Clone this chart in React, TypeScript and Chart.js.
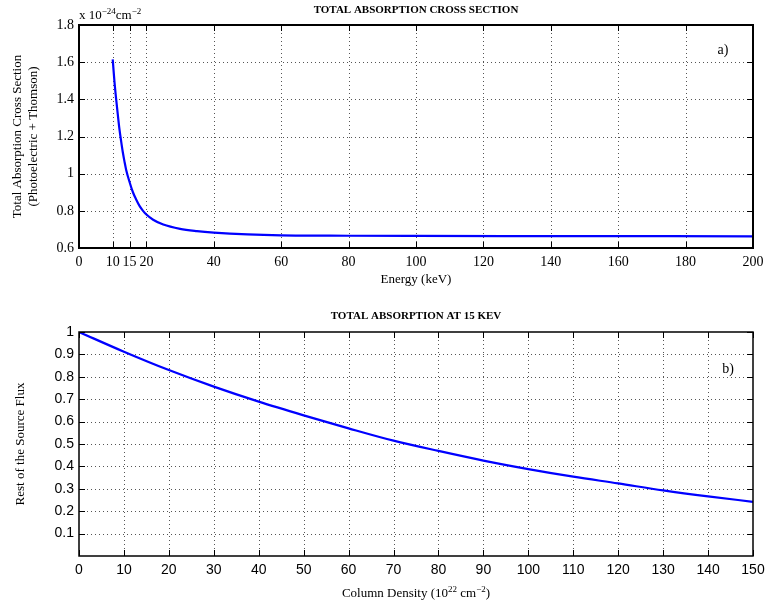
import React, { useEffect, useRef } from 'react';
import { Chart, registerables } from 'chart.js';

Chart.register(...registerables);

// ---- Data ----
const energyKeV = [10, 10.5, 11, 11.5, 12, 12.5, 13, 13.5, 14, 15, 16, 17, 18, 19, 20, 22, 25, 30, 35, 40, 50, 60, 80, 100, 150, 200];
const crossSection = [1.615, 1.50, 1.405, 1.32, 1.24, 1.175, 1.115, 1.065, 1.02, 0.955, 0.90, 0.86, 0.825, 0.80, 0.78, 0.752, 0.726, 0.703, 0.691, 0.683, 0.673, 0.668, 0.666, 0.665, 0.664, 0.663];

const columnDensity = [0, 10, 20, 30, 40, 50, 60, 70, 80, 90, 100, 110, 120, 130, 140, 150];
const restFlux = [1.0, 0.912, 0.830, 0.756, 0.689, 0.628, 0.570, 0.515, 0.469, 0.426, 0.388, 0.354, 0.324, 0.293, 0.266, 0.242];

const topXTicks = [0, 10, 15, 20, 40, 60, 80, 100, 120, 140, 160, 180, 200];
const topYTicks = [0.6, 0.8, 1, 1.2, 1.4, 1.6, 1.8];
const bottomXTicks = [0, 10, 20, 30, 40, 50, 60, 70, 80, 90, 100, 110, 120, 130, 140, 150];
const bottomYTicks = [0.1, 0.2, 0.3, 0.4, 0.5, 0.6, 0.7, 0.8, 0.9, 1];

const topTitle = 'TOTAL ABSORPTION CROSS SECTION';
const bottomTitle = 'TOTAL ABSORPTION AT 15 KEV';

const SERIF = '"Liberation Serif", "Times New Roman", serif';
const SANS = '"Liberation Sans", Arial, sans-serif';

type Part = { t: string; sup?: boolean };

function drawRich(ctx: CanvasRenderingContext2D, parts: Part[], x: number, y: number, align: 'left' | 'center', size: number) {
  const supSize = Math.round(size * 0.72);
  let total = 0;
  const widths = parts.map((p) => {
    ctx.font = `${p.sup ? supSize : size}px ${SERIF}`;
    const w = ctx.measureText(p.t).width;
    total += w;
    return w;
  });
  let cx = align === 'center' ? x - total / 2 : x;
  ctx.textAlign = 'left';
  ctx.textBaseline = 'alphabetic';
  parts.forEach((p, i) => {
    ctx.font = `${p.sup ? supSize : size}px ${SERIF}`;
    ctx.fillText(p.t, cx, p.sup ? y - size * 0.42 : y);
    cx += widths[i];
  });
}

function framePlugin(xTicks: number[], yTicks: number[], boxWidth: number, drawTexts: (ctx: CanvasRenderingContext2D, a: any) => void) {
  return {
    id: 'frame',
    beforeDatasetsDraw(chart: any) {
      const { ctx, chartArea: a, scales } = chart;
      ctx.save();
      ctx.strokeStyle = '#555';
      ctx.lineWidth = 1;
      ctx.setLineDash([1, 3]);
      xTicks.forEach((v) => {
        const px = Math.round(scales.x.getPixelForValue(v)) + 0.5;
        if (px > a.left + 2 && px < a.right - 2) {
          ctx.beginPath();
          ctx.moveTo(px, a.top);
          ctx.lineTo(px, a.bottom);
          ctx.stroke();
        }
      });
      yTicks.forEach((v) => {
        const py = Math.round(scales.y.getPixelForValue(v)) + 0.5;
        if (py > a.top + 2 && py < a.bottom - 2) {
          ctx.beginPath();
          ctx.moveTo(a.left, py);
          ctx.lineTo(a.right, py);
          ctx.stroke();
        }
      });
      ctx.restore();
    },
    afterDatasetsDraw(chart: any) {
      const { ctx, chartArea: a, scales } = chart;
      ctx.save();
      ctx.setLineDash([]);
      ctx.strokeStyle = '#000';
      ctx.lineWidth = 1;
      const tl = 6;
      xTicks.forEach((v) => {
        const px = Math.round(scales.x.getPixelForValue(v)) + 0.5;
        ctx.beginPath();
        ctx.moveTo(px, a.bottom);
        ctx.lineTo(px, a.bottom - tl);
        ctx.moveTo(px, a.top);
        ctx.lineTo(px, a.top + tl);
        ctx.stroke();
      });
      yTicks.forEach((v) => {
        const py = Math.round(scales.y.getPixelForValue(v)) + 0.5;
        ctx.beginPath();
        ctx.moveTo(a.left, py);
        ctx.lineTo(a.left + tl, py);
        ctx.moveTo(a.right, py);
        ctx.lineTo(a.right - tl, py);
        ctx.stroke();
      });
      ctx.lineWidth = boxWidth;
      ctx.strokeRect(a.left, a.top, a.right - a.left, a.bottom - a.top);
      ctx.fillStyle = '#000';
      drawTexts(ctx, a);
      ctx.restore();
    },
  };
}

function makeConfig(
  xs: number[], ys: number[],
  xMin: number, xMax: number, yMin: number, yMax: number,
  xTicks: number[], yTicks: number[],
  tickFamily: string, padTop: number, axisH: number, boxWidth: number,
  drawTexts: (ctx: CanvasRenderingContext2D, a: any) => void,
): any {
  return {
    type: 'line',
    data: {
      datasets: [
        {
          data: xs.map((x, i) => ({ x, y: ys[i] })),
          borderColor: '#0000ff',
          borderWidth: 2.2,
          pointRadius: 0,
          fill: false,
          cubicInterpolationMode: 'monotone',
        },
      ],
    },
    options: {
      responsive: false,
      animation: false,
      devicePixelRatio: 1,
      layout: { padding: { top: padTop, right: 12, left: 0, bottom: 0 } },
      plugins: { legend: { display: false }, tooltip: { enabled: false }, title: { display: false } },
      scales: {
        x: {
          type: 'linear',
          min: xMin,
          max: xMax,
          afterBuildTicks: (s: any) => { s.ticks = xTicks.map((v) => ({ value: v })); },
          afterFit: (s: any) => { s.height = axisH; s.paddingLeft = 0; s.paddingRight = 0; },
          grid: { display: false, drawTicks: false },
          border: { display: false },
          ticks: {
            autoSkip: false,
            maxRotation: 0,
            padding: 6,
            color: '#000',
            font: { family: tickFamily, size: 14 },
            callback: (v: any) => String(v),
          },
        },
        y: {
          type: 'linear',
          min: yMin,
          max: yMax,
          afterBuildTicks: (s: any) => { s.ticks = yTicks.map((v) => ({ value: v })); },
          afterFit: (s: any) => { s.width = 79; s.paddingTop = 0; s.paddingBottom = 0; },
          grid: { display: false, drawTicks: false },
          border: { display: false },
          ticks: {
            autoSkip: false,
            padding: 5,
            color: '#000',
            font: { family: tickFamily, size: 14 },
            callback: (v: any) => String(Number(Number(v).toFixed(1))),
          },
        },
      },
    },
    plugins: [framePlugin(xTicks, yTicks, boxWidth, drawTexts)],
  };
}

export default function App() {
  const topRef = useRef<HTMLCanvasElement>(null);
  const botRef = useRef<HTMLCanvasElement>(null);

  useEffect(() => {
    document.body.style.margin = '0';
    const top = new Chart(
      topRef.current as HTMLCanvasElement,
      makeConfig(energyKeV, crossSection, 0, 200, 0.6, 1.8, topXTicks, topYTicks, SERIF, 25, 52, 2, (ctx, a) => {
        const cx = (a.left + a.right) / 2;
        ctx.font = `bold 11px ${SERIF}`;
        ctx.textAlign = 'center';
        ctx.textBaseline = 'middle';
        ctx.fillText(topTitle, cx, 10);
        drawRich(ctx, [{ t: 'x 10' }, { t: '\u221224', sup: true }, { t: 'cm' }, { t: '\u22122', sup: true }], a.left, 19, 'left', 13);
        ctx.font = `13px ${SERIF}`;
        ctx.textAlign = 'center';
        ctx.textBaseline = 'middle';
        ctx.fillText('Energy (keV)', cx, 280);
        ctx.font = `14px ${SERIF}`;
        ctx.fillText('a)', 723, 50);
        ctx.save();
        ctx.translate(18, (a.top + a.bottom) / 2);
        ctx.rotate(-Math.PI / 2);
        ctx.font = `13px ${SERIF}`;
        ctx.fillText('Total Absorption Cross Section', 0, 0);
        ctx.fillText('(Photoelectric + Thomson)', 0, 16);
        ctx.restore();
      }),
    );
    const bot = new Chart(
      botRef.current as HTMLCanvasElement,
      makeConfig(columnDensity, restFlux, 0, 150, 0, 1, bottomXTicks, bottomYTicks, SANS, 32, 52, 1.5, (ctx, a) => {
        const cx = (a.left + a.right) / 2;
        ctx.font = `bold 11px ${SERIF}`;
        ctx.textAlign = 'center';
        ctx.textBaseline = 'middle';
        ctx.fillText(bottomTitle, cx, 16);
        ctx.font = `14px ${SERIF}`;
        ctx.fillText('b)', 728, 69);
        drawRich(ctx, [{ t: 'Column Density (10' }, { t: '22', sup: true }, { t: ' cm' }, { t: '\u22122', sup: true }, { t: ')' }], cx, 297, 'center', 13);
        ctx.save();
        ctx.translate(21, (a.top + a.bottom) / 2);
        ctx.rotate(-Math.PI / 2);
        ctx.font = `13px ${SERIF}`;
        ctx.textAlign = 'center';
        ctx.textBaseline = 'middle';
        ctx.fillText('Rest of the Source Flux', 0, 0);
        ctx.restore();
      }),
    );
    return () => {
      top.destroy();
      bot.destroy();
    };
  }, []);

  return (
    <div style={{ position: 'relative', width: 765, height: 608, background: '#fff' }}>
      <canvas ref={topRef} width={765} height={300} style={{ position: 'absolute', left: 0, top: 0, display: 'block' }} />
      <canvas ref={botRef} width={765} height={308} style={{ position: 'absolute', left: 0, top: 300, display: 'block' }} />
    </div>
  );
}
